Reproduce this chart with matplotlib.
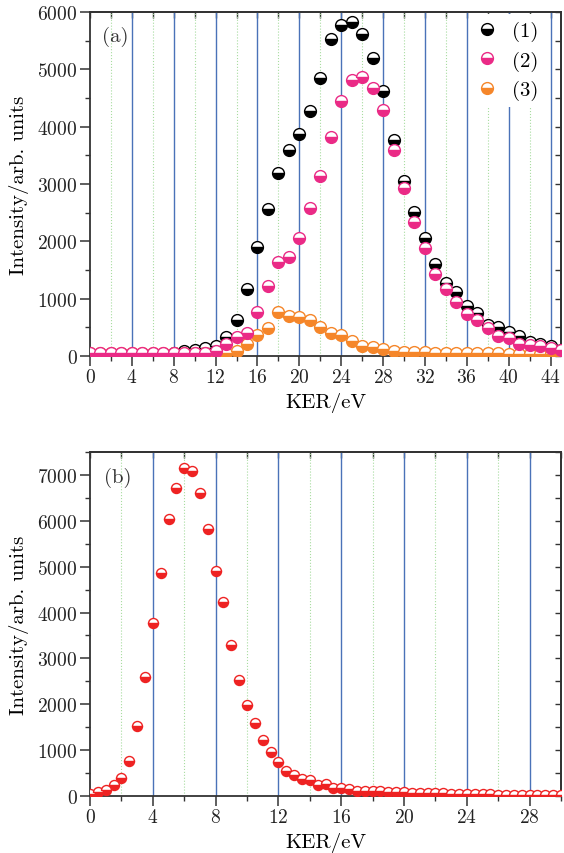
import matplotlib
matplotlib.use('Agg')
import matplotlib.pyplot as plt
from matplotlib.lines import Line2D
import numpy as np

plt.rcParams['font.family'] = 'cmr10'
plt.rcParams['mathtext.fontset'] = 'cm'
plt.rcParams['axes.formatter.use_mathtext'] = True

# ---- panel (a) data: KER (eV) vs intensity
ker_a = list(range(0, 46))
int1 = [30, 30, 30, 30, 30, 30, 30, 35, 45, 80, 100, 140, 180, 340, 630, 1170,
        1895, 2560, 3195, 3600, 3870, 4270, 4850, 5530, 5770, 5830, 5625, 5195,
        4625, 3760, 3050, 2505, 2050, 1605, 1270, 1110, 877, 745, 540, 500, 412,
        343, 250, 210, 170, 100]
int2 = [60, 60, 60, 60, 60, 60, 60, 60, 55, 55, 55, 55, 90, 210, 340, 400,
        770, 1225, 1640, 1720, 2060, 2590, 3140, 3820, 4445, 4810, 4870, 4680,
        4295, 3595, 2935, 2340, 1890, 1430, 1170, 935, 730, 635, 485, 345, 310,
        210, 190, 180, 135, 100]
int3 = [50, 50, 50, 50, 50, 50, 50, 50, 50, 50, 50, 50, 50, 60, 90, 210,
        370, 490, 760, 700, 680, 620, 500, 400, 360, 270, 180, 150, 120, 90,
        70, 70, 70, 60, 55, 55, 50, 50, 45, 45, 40, 40, 40, 35, 35, 30]
err3 = 70
labels_a = ['(1)', '(2)', '(3)']
colors_a = ['black', '#ea2a86', '#f5862a']

# ---- panel (b) data
ker_b = [i * 0.5 for i in range(0, 61)]
int_b = [44, 80, 140, 240, 390, 770, 1520, 2595, 3765, 4865, 6040, 6705, 7150,
         7085, 6600, 5815, 4915, 4230, 3300, 2530, 1990, 1585, 1225, 960, 750,
         550, 465, 370, 350, 245, 265, 180, 165, 160, 115, 115, 110, 100, 95,
         80, 80, 75, 60, 60, 55, 55, 45, 45, 40, 40, 35, 35, 30, 30, 30, 28,
         25, 25, 25, 22, 20]
err_b = 65

blue = '#4a72b8'
green = '#a8dca0'
spine_c = '#333333'

fig = plt.figure(figsize=(5.64, 8.54), dpi=100)
ax1 = fig.add_axes([90/564, (854-357)/854, 471/564, 344/854])
ax2 = fig.add_axes([90/564, (854-797)/854, 471/564, 344/854])


def style(ax, xmax, xmajor, ymax, ymajor):
    ax.set_xlim(0, xmax)
    ax.set_ylim(0, ymax)
    for x in np.arange(xmajor, xmax + 0.01, xmajor):
        ax.axvline(x, color=blue, lw=1.0, zorder=1)
    for x in np.arange(xmajor/2, xmax + 0.01, xmajor):
        ax.axvline(x, color=green, lw=0.8, ls=':', zorder=1)
    ax.set_xticks(np.arange(0, xmax + 0.01, xmajor))
    ax.set_xticks(np.arange(0, xmax + 0.01, xmajor/2), minor=True)
    ax.set_yticks(np.arange(0, ymax + 1, ymajor))
    ax.set_yticks(np.arange(0, ymax + 1, ymajor/2), minor=True)
    ax.tick_params(which='major', direction='out', length=7, width=1.1,
                   labelsize=14, color=spine_c, labelcolor='#222222', pad=2)
    ax.tick_params(which='minor', direction='out', length=3.5, width=1.0,
                   color=spine_c)
    for s in ax.spines.values():
        s.set_color(spine_c)
        s.set_linewidth(1.3)
    # inward ticks on top / right
    top = ax.secondary_xaxis('top')
    top.set_xticks(np.arange(0, xmax + 0.01, xmajor))
    top.set_xticks(np.arange(0, xmax + 0.01, xmajor/2), minor=True)
    top.tick_params(which='both', direction='in', length=4, width=1.0,
                    labeltop=False, color=spine_c)
    top.spines['top'].set_color(spine_c)
    top.spines['top'].set_linewidth(1.3)
    right = ax.secondary_yaxis('right')
    right.set_yticks(np.arange(0, ymax + 1, ymajor))
    right.set_yticks(np.arange(0, ymax + 1, ymajor/2), minor=True)
    right.tick_params(which='both', direction='in', length=4, width=1.0,
                      labelright=False, color=spine_c)
    right.spines['right'].set_color(spine_c)
    right.spines['right'].set_linewidth(1.3)
    ax.set_xlabel('KER/eV', fontsize=15, labelpad=4)
    ax.set_ylabel('Intensity/arb. units', fontsize=15, labelpad=6)


style(ax1, 45, 4, 6000, 1000)
style(ax2, 30, 4, 7500, 1000)

ms_a = 8.5
ax1.plot(ker_a, int1, 'o', ls='none', ms=ms_a, fillstyle='bottom', color=colors_a[0],
         markerfacecoloralt='white', mec=colors_a[0], mew=1.0, zorder=3)
ax1.errorbar(ker_a, int3, yerr=err3, fmt='o', ms=ms_a, fillstyle='bottom',
             color=colors_a[2], markerfacecoloralt='white', mec=colors_a[2], mew=1.0,
             ecolor=colors_a[2], elinewidth=1.0, capsize=3, zorder=4)
ax1.plot(ker_a, int2, 'o', ls='none', ms=ms_a, fillstyle='bottom', color=colors_a[1],
         markerfacecoloralt='white', mec=colors_a[1], mew=1.0, zorder=5)

handles = [Line2D([], [], marker='o', ls='none', ms=ms_a, fillstyle='bottom', color=c,
                  markerfacecoloralt='white', mec=c, mew=1.0) for c in colors_a]
leg = ax1.legend(handles, labels_a, loc='upper right', bbox_to_anchor=(0.968, 0.995),
                 frameon=True, fancybox=False, fontsize=15, handlelength=1.0,
                 handletextpad=0.7, labelspacing=0.45, borderaxespad=0, borderpad=0.35)
leg.get_frame().set_facecolor('white')
leg.get_frame().set_edgecolor('none')
leg.get_frame().set_alpha(1)
leg.set_zorder(6)
ax1.text(0.025, 0.915, '(a)', transform=ax1.transAxes, fontsize=15, color='#333333')

ax2.errorbar(ker_b, int_b, yerr=err_b, fmt='o', ms=7.2, fillstyle='bottom',
             color='#ee2222', markerfacecoloralt='white', mec='#ee2222', mew=1.0,
             ecolor='#ee2222', elinewidth=1.0, capsize=2.5, zorder=4)
ax2.text(0.03, 0.912, '(b)', transform=ax2.transAxes, fontsize=15, color='#333333')

plt.savefig('out.png', dpi=100)
